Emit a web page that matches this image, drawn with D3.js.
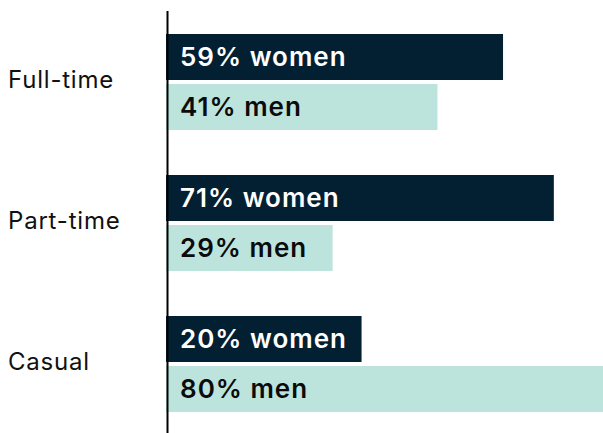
<!DOCTYPE html>
<html>
<head>
<meta charset="utf-8">
<script src="https://cdn.jsdelivr.net/npm/d3@7"></script>
<style>
  body { margin: 0; background: #fff; }
  svg { display: block; }
</style>
</head>
<body>
<svg id="chart" width="603" height="433"></svg>
<script>
// categories and series
var categories = ["Full-time", "Part-time", "Casual"];
var groups = ["women", "men"];
// percentages shown in the labels
var womenPct = [59, 71, 20];
var menPct = [41, 29, 80];
// bar lengths as drawn in the picture (same % units)
var womenBar = [61.7, 71, 35.8];
var menBar = [49.7, 30.5, 80];

var w = 603, h = 433;
var svg = d3.select("#chart");

var x = d3.scaleLinear().domain([0, 80]).range([166, 603]);

var y0 = d3.scaleBand()
    .domain(categories)
    .range([34, 412])
    .paddingInner(45 / 141)
    .paddingOuter(0);

var y1 = d3.scaleBand()
    .domain(groups)
    .range([0, y0.bandwidth()])
    .paddingInner(0.08);

var colors = { women: "#032033", men: "#bce4dc" };
var textColors = { women: "#ffffff", men: "#0b0b0b" };

var rows = [];
categories.forEach(function(c, i) {
    rows.push({ cat: c, g: "women", bar: womenBar[i], pct: womenPct[i] });
    rows.push({ cat: c, g: "men", bar: menBar[i], pct: menPct[i] });
});

svg.selectAll("rect.bar")
    .data(rows)
    .enter()
    .append("rect")
    .attr("class", "bar")
    .attr("x", x(0))
    .attr("y", function(d) { return y0(d.cat) + y1(d.g); })
    .attr("width", function(d) { return x(d.bar) - x(0); })
    .attr("height", y1.bandwidth())
    .attr("fill", function(d) { return colors[d.g]; });

svg.selectAll("text.lbl")
    .data(rows)
    .enter()
    .append("text")
    .attr("class", "lbl")
    .attr("x", x(0) + 14)
    .attr("y", function(d) { return y0(d.cat) + y1(d.g) + y1.bandwidth() / 2 + 9; })
    .attr("fill", function(d) { return textColors[d.g]; })
    .style("font-family", "Inter, sans-serif")
    .style("font-weight", 600)
    .style("font-size", "26px")
    .style("letter-spacing", "1px")
    .text(function(d) { return d.pct + "% " + d.g; });

// category labels
svg.selectAll("text.cat")
    .data(categories)
    .enter()
    .append("text")
    .attr("class", "cat")
    .attr("x", 8)
    .attr("y", function(d) { return y0(d) + y0.bandwidth() / 2 + 6; })
    .attr("fill", "#111")
    .style("font-family", "Inter, sans-serif")
    .style("font-size", "24px")
    .style("letter-spacing", "0.8px")
    .text(function(d) { return d; });

// axis line
svg.append("line")
    .attr("x1", 167.5).attr("x2", 167.5)
    .attr("y1", 11).attr("y2", h)
    .attr("stroke", "#000")
    .attr("stroke-width", 2);
</script>
</body>
</html>
